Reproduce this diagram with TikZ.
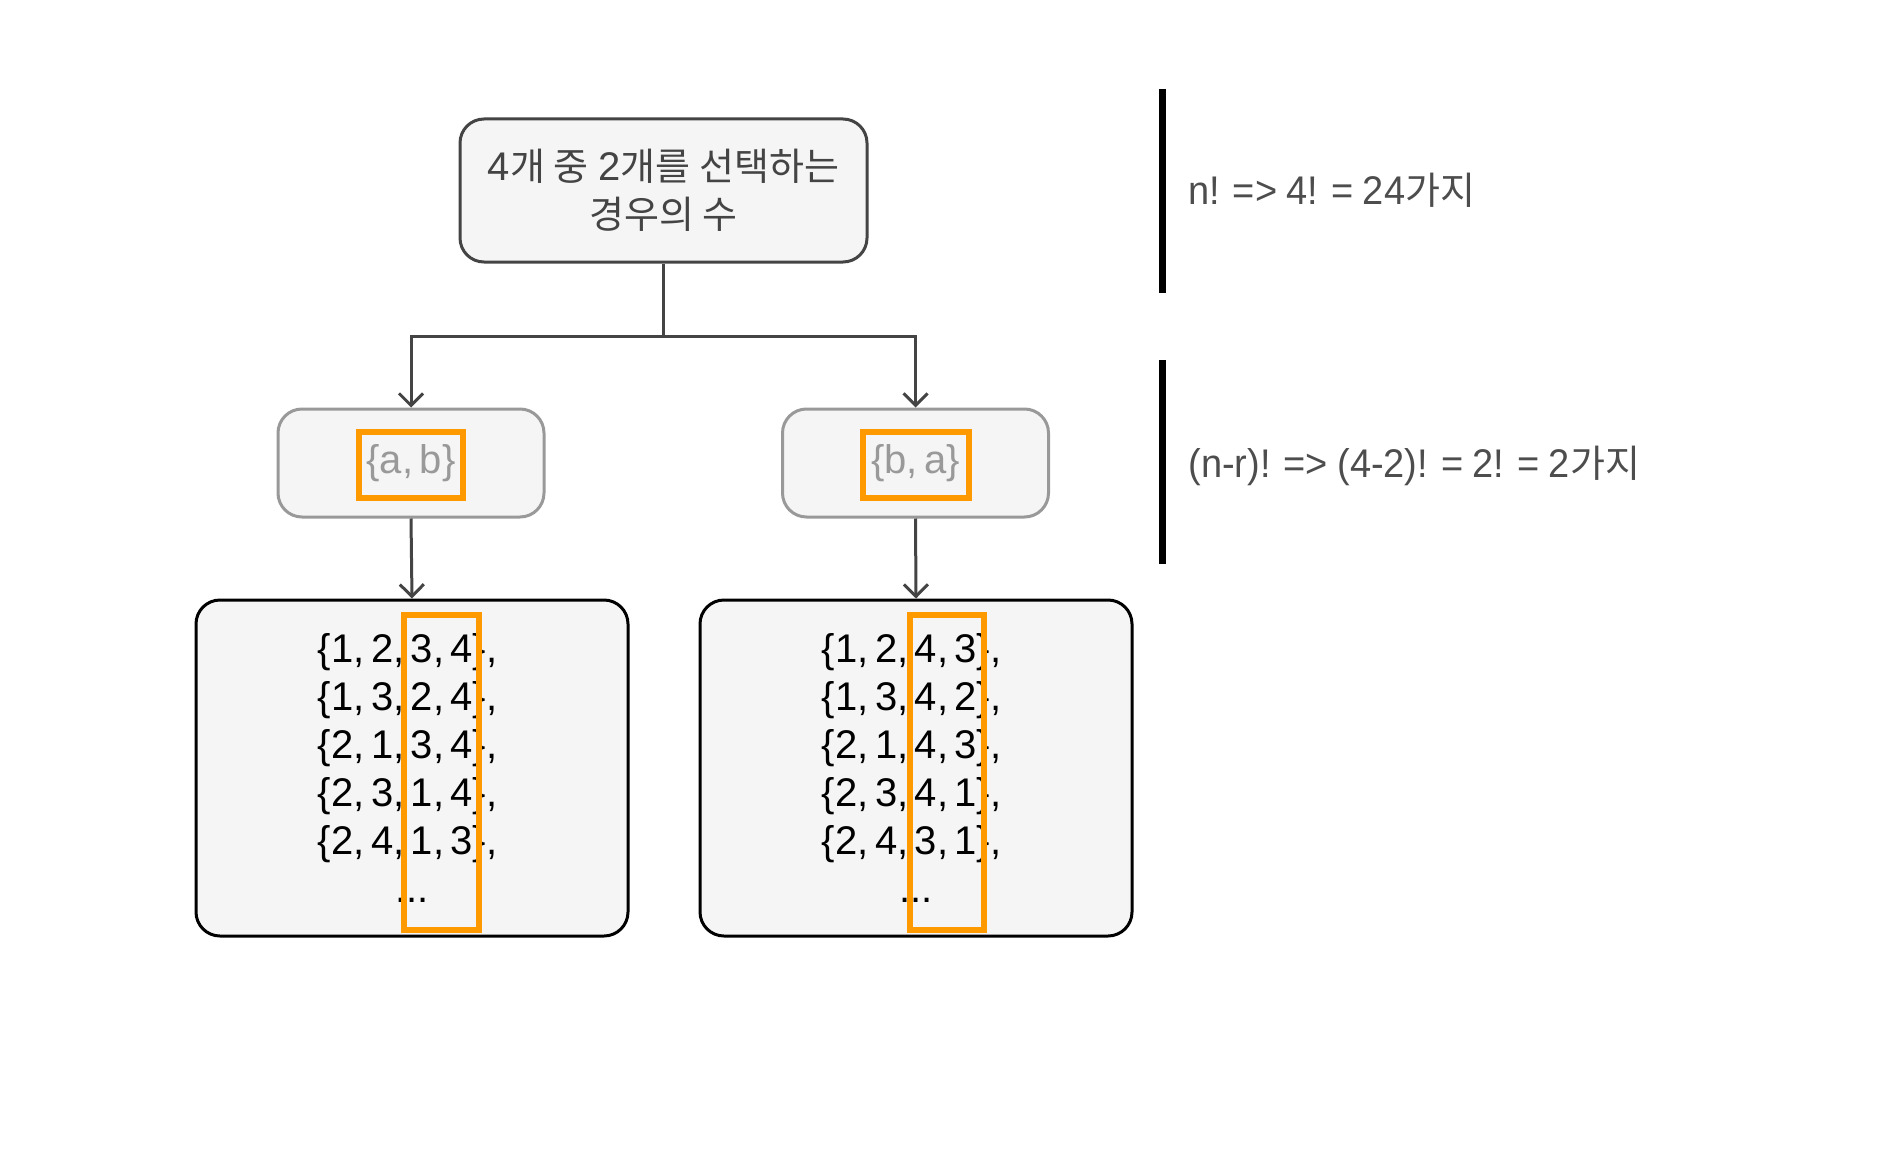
\documentclass[tikz,border=0pt]{standalone}
\usepackage{fontspec}
\setmainfont{Liberation Sans}[WordSpace=0.89]
\newfontfamily\notefont{Liberation Sans}[FakeStretch=0.95,WordSpace=0.89]
\newfontfamily\cjk{Noto Sans CJK KR}[Scale=0.95]
\usetikzlibrary{arrows.meta}
\definecolor{dk}{HTML}{444444}
\definecolor{gr}{HTML}{999999}
\definecolor{nt}{HTML}{4D4D4D}
\definecolor{boxfill}{HTML}{F5F5F5}
\definecolor{hlorange}{HTML}{FF9900}
\newcommand\cm{,\kern-0.086em}
\newcommand\trail{\hbox to 0.3em{}}
\tikzset{
  base/.style={rounded corners=12pt, fill=boxfill, line width=1.5pt, align=center, inner sep=0pt, font=\fontsize{20}{24}\selectfont},
  topbox/.style={base, draw=dk, text=dk, minimum width=203.5pt, minimum height=71.5pt},
  midbox/.style={base, draw=gr, text=gr, minimum width=133pt, minimum height=54pt},
  botbox/.style={base, draw=black, text=black, minimum width=216pt, minimum height=168pt},
  hl/.style={draw=hlorange, line width=3pt, inner sep=0pt},
  conn/.style={draw=dk, line width=1.5pt},
  arr/.style={conn, -{Straight Barb[length=6pt,width=12pt]}},
  note/.style={anchor=west, text=nt, inner sep=0pt, font=\fontsize{20}{24}\notefont},
  bar/.style={line width=3.5pt, draw=black}
}
\begin{document}
\begin{tikzpicture}[x=0.5pt,y=-0.5pt]
\useasboundingbox (0,0) rectangle (1882,1166);
% boxes
\node[topbox] (top) at (663.5,190.5) {4{\cjk 개 중} 2{\cjk 개를 선택하는}\\{\cjk 경우의 수}};
\node[midbox] (ml) at (411,463) {\{a\cm{} b\}};
\node[midbox] (mr) at (915.5,463) {\{b\cm{} a\}};
\node[botbox] (bl) at (412,768) {\{1\cm{} 2\cm{} 3\cm{} 4\}\cm\trail\\\{1\cm{} 3\cm{} 2\cm{} 4\}\cm\trail\\\{2\cm{} 1\cm{} 3\cm{} 4\}\cm\trail\\\{2\cm{} 3\cm{} 1\cm{} 4\}\cm\trail\\\{2\cm{} 4\cm{} 1\cm{} 3\}\cm\trail\\...};
\node[botbox] (br) at (916,768) {\{1\cm{} 2\cm{} 4\cm{} 3\}\cm\trail\\\{1\cm{} 3\cm{} 4\cm{} 2\}\cm\trail\\\{2\cm{} 1\cm{} 4\cm{} 3\}\cm\trail\\\{2\cm{} 3\cm{} 4\cm{} 1\}\cm\trail\\\{2\cm{} 4\cm{} 3\cm{} 1\}\cm\trail\\...};
% highlights
\node[hl, minimum width=52pt, minimum height=33pt] (hml) at (411,465) {};
\node[hl, minimum width=53pt, minimum height=33pt] (hmr) at (916,465) {};
\node[hl, minimum width=37.5pt, minimum height=157.5pt] (hbl) at (441.5,772.5) {};
\node[hl, minimum width=37pt, minimum height=157.5pt] (hbr) at (947,772.5) {};
% connectors
\coordinate (j) at (663.5,336);
\draw[conn] (top.south) -- (j);
\draw[arr] (j) -| (ml.north);
\draw[arr] (j) -| (mr.north);
\draw[arr] (ml.south) -- (bl.north);
\draw[arr] (mr.south) -- (br.north);
% notes
\coordinate (b1t) at (1162,89);
\coordinate (b1b) at (1162,293);
\coordinate (b2t) at (1162,360);
\coordinate (b2b) at (1162,564);
\draw[bar] (b1t) -- (b1b);
\draw[bar] (b2t) -- (b2b);
\node[note] (n1) at (1188,190) {n! => 4! = 24{\cjk 가지}};
\node[note] (n2) at (1188,466) {(n-r)! => (4-2)! = 2! = 2{\cjk 가지}};
\end{tikzpicture}
\end{document}
